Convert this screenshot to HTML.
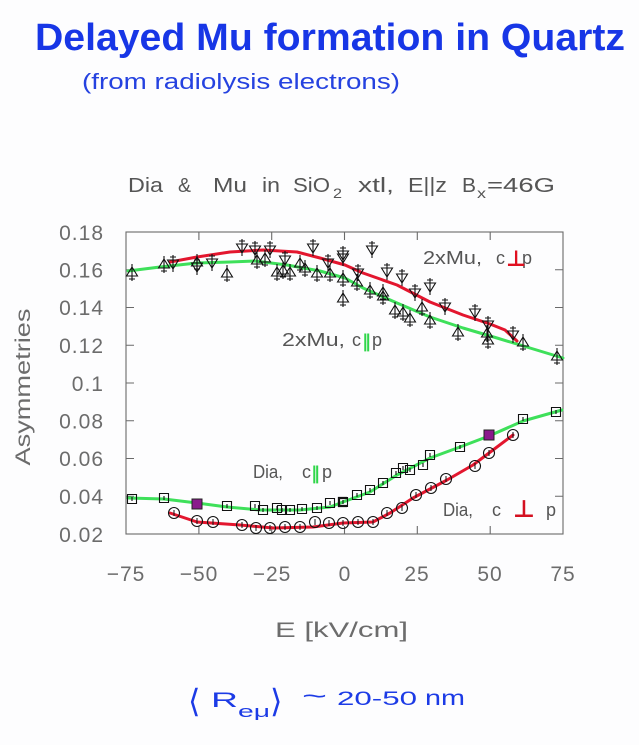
<!DOCTYPE html>
<html><head><meta charset="utf-8"><style>
html,body{margin:0;padding:0;background:#fdfdfe;}
svg{display:block;}
</style></head><body>
<svg width="639" height="745" viewBox="0 0 639 745" xmlns="http://www.w3.org/2000/svg">
<rect width="639" height="745" fill="#fdfdfe"/>
<defs>
<g id="tu"><path d="M-5.5,4 L0,-5 L5.5,4 Z M0,-8 V9 M-3,7 H3" fill="none" stroke="#111" stroke-width="1.1"/></g>
<g id="td"><path d="M-5.5,-4 L0,5 L5.5,-4 Z M0,-9 V8 M-3,-7 H3" fill="none" stroke="#111" stroke-width="1.1"/></g>
<g id="sq"><path d="M-4.5,-4.5 H4.5 V4.5 H-4.5 Z M0,-2 V2" fill="none" stroke="#111" stroke-width="1.1"/></g>
<g id="ci"><circle r="5.5" fill="none" stroke="#111" stroke-width="1.1"/><path d="M0,-3 V3" stroke="#111" stroke-width="1"/></g>
</defs>

<!-- handwritten titles -->
<text x="35" y="50" font-family="Liberation Sans, sans-serif" font-weight="bold" font-size="38" fill="#1736e6" textLength="590" lengthAdjust="spacingAndGlyphs">Delayed Mu formation in Quartz</text>
<text x="82" y="89" font-family="Liberation Sans, sans-serif" font-size="22" fill="#2542e0" textLength="318" lengthAdjust="spacingAndGlyphs">(from radiolysis electrons)</text>

<!-- chart title -->
<g font-family="Liberation Sans, sans-serif" font-size="20" fill="#555">
<text x="128" y="192" textLength="35" lengthAdjust="spacingAndGlyphs">Dia</text>
<text x="178" y="192" textLength="13" lengthAdjust="spacingAndGlyphs">&amp;</text>
<text x="213" y="192" textLength="34" lengthAdjust="spacingAndGlyphs">Mu</text>
<text x="262" y="192" textLength="18" lengthAdjust="spacingAndGlyphs">in</text>
<text x="293" y="192" textLength="37" lengthAdjust="spacingAndGlyphs">SiO</text>
<text x="333" y="198" font-size="14" textLength="9" lengthAdjust="spacingAndGlyphs">2</text>
<text x="358" y="192" textLength="36" lengthAdjust="spacingAndGlyphs">xtl,</text>
<text x="408" y="192" textLength="39" lengthAdjust="spacingAndGlyphs">E||z</text>
<text x="462" y="192" textLength="14" lengthAdjust="spacingAndGlyphs">B</text>
<text x="477" y="198" font-size="14" textLength="9" lengthAdjust="spacingAndGlyphs">x</text>
<text x="487" y="192" textLength="68" lengthAdjust="spacingAndGlyphs">=46G</text>
</g>

<!-- frame -->
<rect x="126" y="232" width="437" height="302" fill="none" stroke="#6a6a6a" stroke-width="1.1"/>
<g stroke="#6a6a6a" stroke-width="1.1">
<path d="M126,269.75h8M126,307.5h8M126,345.25h8M126,383h8M126,420.75h8M126,458.5h8M126,496.25h8"/>
<path d="M563,269.75h-8M563,307.5h-8M563,345.25h-8M563,383h-8M563,420.75h-8M563,458.5h-8M563,496.25h-8"/>
<path d="M198.9,232v8M271.7,232v8M344.5,232v8M417.3,232v8M490.2,232v8"/>
<path d="M198.9,534v-8M271.7,534v-8M344.5,534v-8M417.3,534v-8M490.2,534v-8"/>
</g>

<!-- y tick labels -->
<g font-family="Liberation Sans, sans-serif" font-size="21" fill="#6c6c6c" text-anchor="end" letter-spacing="1">
<text x="104" y="240">0.18</text>
<text x="104" y="277.5">0.16</text>
<text x="104" y="315">0.14</text>
<text x="104" y="353">0.12</text>
<text x="104" y="391">0.1</text>
<text x="104" y="428.5">0.08</text>
<text x="104" y="466">0.06</text>
<text x="104" y="504">0.04</text>
<text x="104" y="542">0.02</text>
</g>
<!-- x tick labels -->
<g font-family="Liberation Sans, sans-serif" font-size="21" fill="#6c6c6c" text-anchor="middle" letter-spacing="1">
<text x="126" y="581">−75</text>
<text x="199" y="581">−50</text>
<text x="272" y="581">−25</text>
<text x="345" y="581">0</text>
<text x="417" y="581">25</text>
<text x="490" y="581">50</text>
<text x="563" y="581">75</text>
</g>
<text x="275" y="637" font-family="Liberation Sans, sans-serif" font-size="21" fill="#6c6c6c" textLength="133" lengthAdjust="spacingAndGlyphs">E [kV/cm]</text>
<text transform="translate(30,387) rotate(-90)" x="0" y="0" text-anchor="middle" font-family="Liberation Sans, sans-serif" font-size="21" fill="#6c6c6c" textLength="157" lengthAdjust="spacingAndGlyphs">Asymmetries</text>

<!-- curves -->
<g fill="none" stroke-width="3" stroke-linejoin="round" stroke-linecap="round">
<polyline stroke="#3ee05a" points="128,271 160,267 197,263 230,262 255,261 287,265 320,271 345,278 363,288 397,303 430,317 463,328 497,338 530,348 563,358"/>
<polyline stroke="#e3162e" points="170,262 197,257 230,252 263,250 297,252 320,258 345,265 363,273 397,285 430,302 463,315 490,324 505,330 517,341"/>
<polyline stroke="#3ee05a" points="128,498 164,499 197,503 227,507 260,510 300,510 330,507 343,502 370,492 397,475 430,458 460,447 489,436 523,421 562,410"/>
<polyline stroke="#e3162e" points="170,513 197,522 240,525 273,528 313,527 343,523 373,522 390,513 413,498 447,480 473,465 493,450 513,435"/>
</g>

<!-- markers: up triangles -->
<g>
<use href="#tu" x="132" y="272"/><use href="#tu" x="164" y="264"/><use href="#tu" x="197" y="262"/>
<use href="#tu" x="227" y="273"/><use href="#tu" x="257" y="260"/><use href="#tu" x="265" y="258"/>
<use href="#tu" x="277" y="272"/><use href="#tu" x="283" y="270"/><use href="#tu" x="290" y="272"/>
<use href="#tu" x="300" y="263"/><use href="#tu" x="305" y="268"/><use href="#tu" x="317" y="273"/>
<use href="#tu" x="330" y="273"/><use href="#tu" x="343" y="278"/><use href="#tu" x="343" y="298"/>
<use href="#tu" x="357" y="282"/><use href="#tu" x="370" y="290"/><use href="#tu" x="383" y="292"/>
<use href="#tu" x="383" y="296"/><use href="#tu" x="395" y="310"/><use href="#tu" x="403" y="312"/>
<use href="#tu" x="410" y="318"/><use href="#tu" x="422" y="307"/><use href="#tu" x="430" y="320"/>
<use href="#tu" x="458" y="332"/><use href="#tu" x="487" y="333"/><use href="#tu" x="488" y="340"/>
<use href="#tu" x="523" y="342"/><use href="#tu" x="557" y="356"/>
</g>
<!-- down triangles -->
<g>
<use href="#td" x="173" y="264"/><use href="#td" x="197" y="267"/><use href="#td" x="212" y="263"/>
<use href="#td" x="242" y="248"/><use href="#td" x="255" y="250"/><use href="#td" x="270" y="250"/>
<use href="#td" x="285" y="260"/><use href="#td" x="313" y="248"/><use href="#td" x="328" y="263"/>
<use href="#td" x="343" y="255"/><use href="#td" x="343" y="258"/><use href="#td" x="358" y="273"/>
<use href="#td" x="372" y="250"/><use href="#td" x="387" y="272"/><use href="#td" x="402" y="278"/>
<use href="#td" x="415" y="293"/><use href="#td" x="430" y="287"/><use href="#td" x="445" y="307"/>
<use href="#td" x="475" y="313"/><use href="#td" x="488" y="325"/><use href="#td" x="513" y="335"/>
</g>
<!-- squares -->
<g>
<use href="#sq" x="132" y="499"/><use href="#sq" x="164" y="498"/>
<use href="#sq" x="227" y="506"/><use href="#sq" x="255" y="506"/><use href="#sq" x="263" y="510"/>
<use href="#sq" x="277" y="508"/><use href="#sq" x="282" y="510"/><use href="#sq" x="290" y="510"/>
<use href="#sq" x="302" y="509"/><use href="#sq" x="317" y="508"/><use href="#sq" x="330" y="503"/>
<use href="#sq" x="343" y="502"/><use href="#sq" x="357" y="495"/><use href="#sq" x="370" y="490"/>
<use href="#sq" x="383" y="483"/><use href="#sq" x="396" y="473"/><use href="#sq" x="403" y="468"/>
<use href="#sq" x="410" y="470"/><use href="#sq" x="423" y="465"/><use href="#sq" x="430" y="455"/>
<use href="#sq" x="460" y="447"/><use href="#sq" x="523" y="419"/><use href="#sq" x="556" y="412"/>
<rect x="192" y="499" width="10" height="10" fill="#8a1a8c" stroke="#222" stroke-width="1"/>
<rect x="484" y="430" width="10" height="10" fill="#8a1a8c" stroke="#222" stroke-width="1"/>
<path d="M347,498 H339 V506 H347" fill="none" stroke="#111" stroke-width="2.2"/>
</g>
<!-- circles -->
<g>
<use href="#ci" x="174" y="513"/><use href="#ci" x="197" y="521"/><use href="#ci" x="213" y="522"/>
<use href="#ci" x="242" y="525"/><use href="#ci" x="256" y="528"/><use href="#ci" x="270" y="528"/>
<use href="#ci" x="285" y="527"/><use href="#ci" x="300" y="527"/><use href="#ci" x="315" y="522"/>
<use href="#ci" x="329" y="523"/><use href="#ci" x="343" y="523"/><use href="#ci" x="358" y="522"/>
<use href="#ci" x="373" y="522"/><use href="#ci" x="387" y="513"/><use href="#ci" x="402" y="508"/>
<use href="#ci" x="416" y="495"/><use href="#ci" x="431" y="488"/><use href="#ci" x="446" y="479"/>
<use href="#ci" x="475" y="466"/><use href="#ci" x="489" y="453"/><use href="#ci" x="513" y="435"/>
</g>

<!-- in-plot labels -->
<g font-family="Liberation Sans, sans-serif" font-size="18" fill="#555">
<text x="423" y="264" textLength="59" lengthAdjust="spacingAndGlyphs">2xMu,</text>
<text x="496" y="264">c</text>
<text x="522" y="264">p</text>
<text x="282" y="346" textLength="63" lengthAdjust="spacingAndGlyphs">2xMu,</text>
<text x="352" y="346">c</text>
<text x="372" y="346">p</text>
<text x="253" y="478" textLength="30" lengthAdjust="spacingAndGlyphs">Dia,</text>
<text x="302" y="478">c</text>
<text x="322" y="478">p</text>
<text x="443" y="516" textLength="30" lengthAdjust="spacingAndGlyphs">Dia,</text>
<text x="492" y="516">c</text>
<text x="546" y="516">p</text>
</g>
<g font-family="DejaVu Sans, sans-serif" font-weight="bold">
<text x="506" y="266" font-size="22" fill="#e01020">⊥</text>
<text x="362" y="347" font-size="18" fill="#2fd64a">‖</text>
<text x="311" y="479" font-size="18" fill="#2fd64a">‖</text>
<text x="513" y="517" font-size="24" fill="#d41020">⊥</text>
</g>

<!-- bottom handwritten -->
<g font-family="Liberation Sans, sans-serif" fill="#1c3be6">
<text x="188" y="712" font-size="32">⟨</text>
<text x="211" y="707" font-size="21" textLength="27" lengthAdjust="spacingAndGlyphs">R</text>
<text x="238" y="717" font-size="17" textLength="32" lengthAdjust="spacingAndGlyphs">eμ</text>
<text x="270" y="712" font-size="32">⟩</text>
<text x="302" y="704" font-size="24" textLength="25" lengthAdjust="spacingAndGlyphs">~</text>
<text x="337" y="705" font-size="19" textLength="80" lengthAdjust="spacingAndGlyphs">20-50</text>
<text x="425" y="705" font-size="21" textLength="40" lengthAdjust="spacingAndGlyphs">nm</text>
</g>
</svg>
</body></html>
